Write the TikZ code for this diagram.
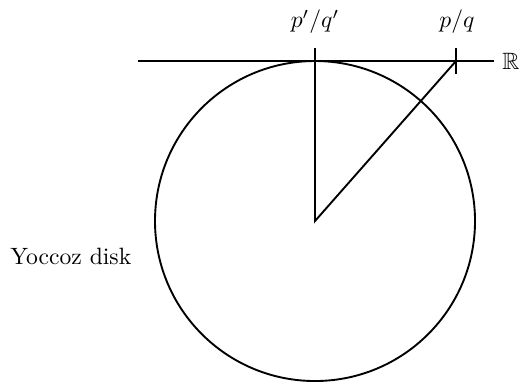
\documentclass[tikz,border=0pt]{standalone}
\usepackage{amssymb}
\begin{document}
\begin{tikzpicture}[x=0.4237pt,y=-0.4237pt,
  ln/.style={line width=0.8pt},
  lbl/.style={inner sep=0pt}]
\useasboundingbox (0,0) rectangle (525,384);
\coordinate (c) at (315,221);
\coordinate (t) at (315,61);
\coordinate (pq) at (456,61);
\coordinate (l) at (138,61);
\coordinate (r) at (494,61);
\draw[ln] (c) circle[radius=160];
\draw[ln] (l) -- (r);
\draw[ln] (315,48) -- (315,74);
\draw[ln] (456,48) -- (456,74);
\draw[ln] (t) -- (c) -- (pq);
\node[lbl] (a) at (315,22) {$p'/q'$};
\node[lbl] (b) at (457,22) {$p/q$};
\node[lbl] (R) at (511,61) {$\mathbb{R}$};
\node[lbl,anchor=base west] (y) at (10,264) {Yoccoz disk};
\end{tikzpicture}
\end{document}
